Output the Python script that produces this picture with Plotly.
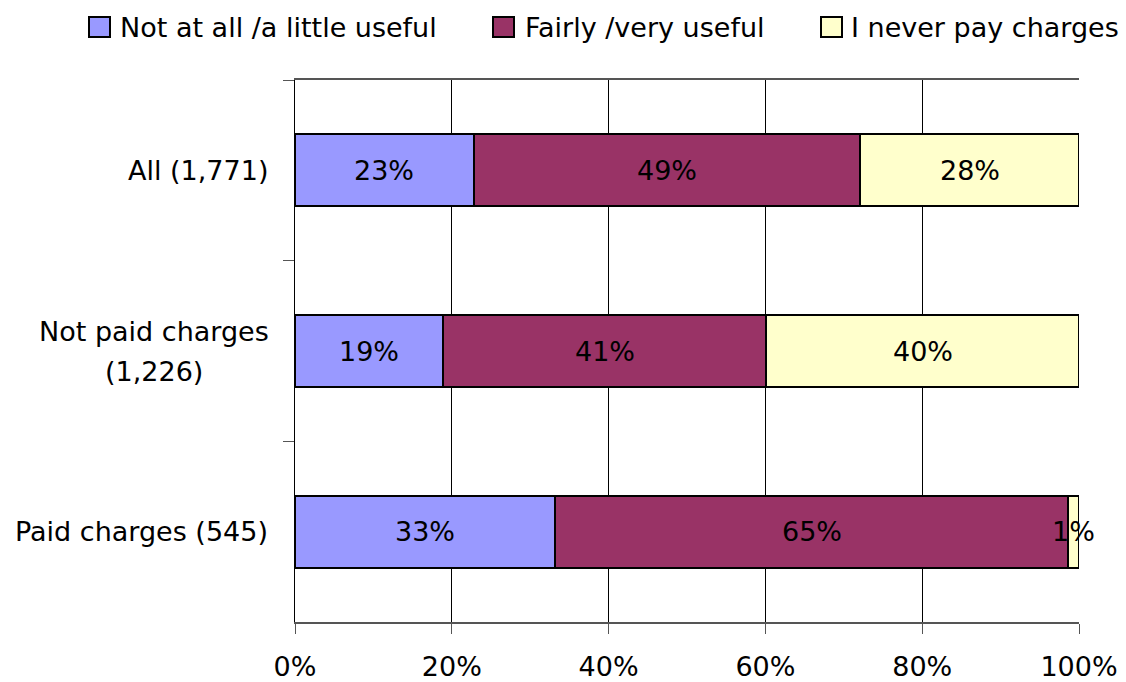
import plotly.graph_objects as go

# data (percent of respondents)
categories = ["All (1,771)", "Not paid charges<br>(1,226)", "Paid charges (545)"]
series_names = ["Not at all /a little useful", "Fairly /very useful", "I never pay charges"]
not_useful = [22.8, 18.9, 33.2]
useful = [49.3, 41.2, 65.4]
never_pay = [27.9, 39.9, 1.4]
series_values = [not_useful, useful, never_pay]
colors = ["#9999FF", "#993366", "#FFFFCC"]

W, H = 1126, 682
L, R, T, B = 295, 47, 80, 60
pw, ph = W - L - R, H - T - B


def px_x(p):
    return (p - L) / pw


def px_y(p):
    return (H - B - p) / ph


FONT = "DejaVu Sans"
FS = 27

fig = go.Figure()
for name, vals, col in zip(series_names, series_values, colors):
    fig.add_trace(go.Bar(
        y=categories, x=vals, name=name, orientation="h",
        marker=dict(color=col, line=dict(color="black", width=2)),
        showlegend=False, width=0.4, hoverinfo="x+name",
    ))

# segment labels centred on each segment (the 1% one spills over, as in the original)
start = [0.0] * len(categories)
for vals in series_values:
    for j, (cat, v) in enumerate(zip(categories, vals)):
        fig.add_annotation(x=start[j] + v / 2, y=cat, xref="x", yref="y",
                           text=f"{v:.0f}%", showarrow=False,
                           font=dict(family=FONT, size=FS, color="black"))
        start[j] += v

# category labels, each line centred like the original
for cat in categories:
    lines = cat.split("<br>")
    n = len(lines)
    for i, line in enumerate(lines):
        if n == 1:
            fig.add_annotation(x=px_x(270), xref="paper", xanchor="right", y=cat, yref="y",
                               text=line, showarrow=False,
                               font=dict(family=FONT, size=FS, color="black"))
        else:
            fig.add_annotation(x=px_x(154), xref="paper", xanchor="center", y=cat, yref="y",
                               text=line, showarrow=False, yshift=(n - 1) * 20 - i * 40,
                               font=dict(family=FONT, size=FS, color="black"))

# legend along the top
legend_sq = [89, 493, 821]
legend_tx = [118, 523, 849]
for name, col, sx, tx in zip(series_names, colors, legend_sq, legend_tx):
    fig.add_shape(type="rect", xref="paper", yref="paper",
                  x0=px_x(sx), x1=px_x(sx + 21), y0=px_y(37), y1=px_y(17),
                  fillcolor=col, line=dict(color="black", width=2))
    fig.add_annotation(x=px_x(tx), y=px_y(27), xref="paper", yref="paper",
                       xanchor="left", yanchor="middle", text=name, showarrow=False,
                       font=dict(family=FONT, size=FS, color="black"))

fig.update_layout(
    barmode="stack",
    width=W, height=H,
    margin=dict(l=L, r=R, t=T, b=B, autoexpand=False),
    plot_bgcolor="white", paper_bgcolor="white",
    font=dict(family=FONT, size=FS, color="black"),
    xaxis=dict(range=[0, 100], dtick=20, ticksuffix="%",
               showgrid=True, gridcolor="black", gridwidth=1,
               showline=True, linecolor="#555555", linewidth=2, mirror=True,
               ticks="outside", ticklen=10, tickcolor="#555555",
               ticklabelstandoff=10, zeroline=False,
               tickfont=dict(family=FONT, size=FS, color="black")),
    yaxis=dict(autorange="reversed", showticklabels=False,
               showline=True, linecolor="black", linewidth=1,
               ticks="outside", ticklen=11, tickcolor="#555555",
               tickson="boundaries", showgrid=False, zeroline=False),
)

fig.write_html("out.html", config={"displayModeBar": False},
               post_script="document.body.style.margin='0';")
